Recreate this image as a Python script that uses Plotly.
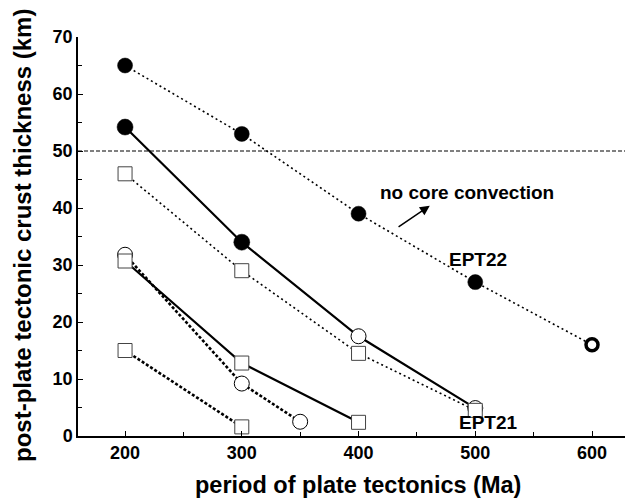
import plotly.graph_objects as go

# --- data ---
s1_x = [200, 300, 400, 500, 600]
s1_y = [65, 53, 39, 27, 16]
s2_x = [200, 300, 400, 500]
s2_y = [54.2, 34, 17.5, 4.9]
s3_x = [200, 300, 400, 500]
s3_y = [46, 29, 14.5, 4.5]
s4_x = [200, 300, 400]
s4_y = [30.7, 12.8, 2.4]
s5_x = [200, 300, 350]
s5_y = [31.8, 9.2, 2.5]
s6_x = [200, 300]
s6_y = [15, 1.6]
ref_level = 50
x_title = "period of plate tectonics (Ma)"
y_title = "post-plate tectonic crust thickness (km)"

FONT = "Liberation Sans, Arial, Helvetica, sans-serif"
# page has an 8px body margin, so the figure is sized to fit the window
W, H = 625, 493
L, R, T, B = 70, 0, 29, 65
PW, PH = W - L - R, H - T - B

fig = go.Figure()

def line_trace(x, y, width, dash):
    fig.add_trace(go.Scatter(x=x, y=y, mode="lines",
                             line=dict(color="black", width=width, dash=dash),
                             showlegend=False, hoverinfo="skip"))

def marker_trace(x, y, symbol, size, fill, lc, lw):
    fig.add_trace(go.Scatter(x=x, y=y, mode="markers",
                             marker=dict(symbol=symbol, size=size, color=fill, opacity=1,
                                         line=dict(color=lc, width=lw)),
                             showlegend=False))

# lines
line_trace(s1_x, s1_y, 1.6, "2px,3px")
line_trace(s2_x, s2_y, 2.2, "solid")
line_trace(s5_x, s5_y, 2.6, "3px,2px")
line_trace(s3_x, s3_y, 1.6, "2px,3px")
line_trace(s4_x, s4_y, 2.2, "solid")
line_trace(s6_x, s6_y, 2.6, "3px,2px")

# circle markers
marker_trace(s1_x[:4], s1_y[:4], "circle", 15, "#000000", "#000000", 0.5)
marker_trace(s1_x[4:], s1_y[4:], "circle", 12, "#ffffff", "#000000", 3.5)
marker_trace(s2_x[:2], s2_y[:2], "circle", 16, "#000000", "#000000", 0.5)
marker_trace(s2_x[2:], s2_y[2:], "circle", 15, "#ffffff", "#000000", 1)
marker_trace(s5_x, s5_y, "circle", 15, "#ffffff", "#000000", 1)
# square markers
marker_trace(s3_x, s3_y, "square", 14, "#ffffff", "#444444", 1)
marker_trace(s4_x, s4_y, "square", 14, "#ffffff", "#444444", 1)
marker_trace(s6_x, s6_y, "square", 14, "#ffffff", "#444444", 1)

fig.add_shape(type="line", xref="paper", x0=0, x1=1, yref="y",
              y0=ref_level, y1=ref_level,
              line=dict(color="black", width=1, dash="4px,2px"), layer="below")

bold = dict(family=FONT, color="black", weight="bold")
fig.add_annotation(x=493, y=42.8, xref="x", yref="y", text="no core convection",
                   showarrow=False, font=dict(size=19, **bold))
fig.add_annotation(x=461, y=40.4, ax=433, ay=36.5, xref="x", yref="y",
                   axref="x", ayref="y", text="", showarrow=True,
                   arrowhead=2, arrowsize=1.3, arrowwidth=1.5, arrowcolor="black")
fig.add_annotation(x=502, y=30.9, xref="x", yref="y", text="EPT22",
                   showarrow=False, font=dict(size=19, **bold))
fig.add_annotation(x=511, y=2.3, xref="x", yref="y", text="EPT21",
                   showarrow=False, font=dict(size=19, **bold))

# axis titles
fig.add_annotation(x=(350 - L) / PW, y=-(477 - 428) / PH,
                   xref="paper", yref="paper", text=x_title, showarrow=False,
                   xanchor="center", yanchor="middle", font=dict(size=23.5, **bold))
fig.add_annotation(x=-(L - 14) / PW, y=(428 - 228) / PH,
                   xref="paper", yref="paper", text=y_title, showarrow=False,
                   textangle=-90, xanchor="center", yanchor="middle",
                   font=dict(size=24, **bold))

fig.update_layout(
    width=W, height=H,
    margin=dict(l=L, r=R, t=T, b=B, autoexpand=False),
    plot_bgcolor="white", paper_bgcolor="white",
    font=dict(family=FONT, color="black"),
)
fig.update_xaxes(
    range=[159.7, 635.1], tickvals=[200, 300, 400, 500, 600], automargin=False,
    showline=True, linecolor="black", linewidth=1.5, mirror=False,
    ticks="inside", ticklen=5, tickcolor="black", tickwidth=1,
    minor=dict(tickvals=[250, 350, 450, 550], ticks="inside", ticklen=4, tickcolor="black"),
    showgrid=False, zeroline=False,
    tickfont=dict(family=FONT, size=18, weight="bold"),
)
fig.update_yaxes(
    range=[0, 70], tickvals=[0, 10, 20, 30, 40, 50, 60, 70], automargin=False,
    showline=True, linecolor="black", linewidth=1.5, mirror=False,
    ticks="inside", ticklen=5, tickcolor="black", tickwidth=1,
    minor=dict(tickvals=[5, 15, 25, 35, 45, 55, 65], ticks="inside", ticklen=4, tickcolor="black"),
    showgrid=False, zeroline=False,
    tickfont=dict(family=FONT, size=18, weight="bold"),
)

fig.write_html("out.html")
